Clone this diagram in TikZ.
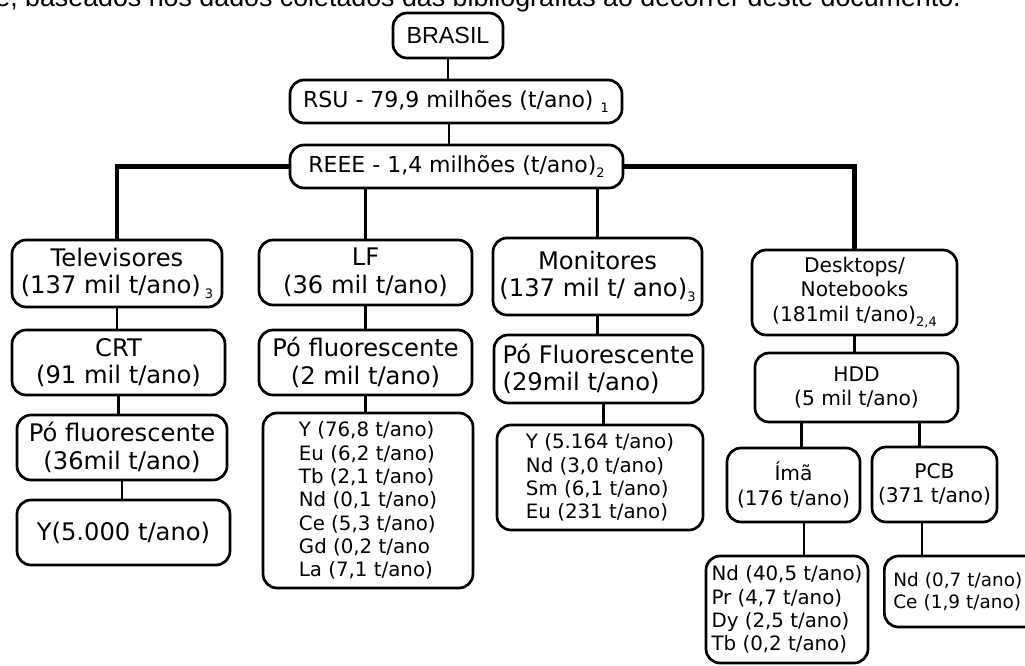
\documentclass[tikz,border=0pt]{standalone}
\usepackage{fontspec}
\setmainfont{DejaVu Sans}
\newfontfamily\arialfont{Liberation Sans}
\usetikzlibrary{calc}

\newcommand{\refn}[1]{\raisebox{-5pt}{\fontsize{13}{13}\selectfont #1}}

\begin{document}
\begin{tikzpicture}[x=1pt, y=-1pt,
                box/.style={
                  draw, line width=2.7pt, rounded corners=14pt, align=center, inner sep=2pt,
                  font=\fontsize{24.2}{27.5}\selectfont
                },
                smallbox/.style={box, font=\fontsize{20.2}{24.5}\selectfont},
                listbox/.style={box, align=left, font=\fontsize{19.8}{23.3}\selectfont},
                link/.style={line width=2.8pt},
                mainlink/.style={line width=4.4pt}, % the two long branches of REEE
              ]
  \path[use as bounding box] (0,0) rectangle (1025,666);
  \clip (0,0) rectangle (1025,666);

  \node[anchor=base west, inner sep=0, font=\arialfont\fontsize{26.8}{30}\selectfont] (caption) at (-4.8,6.5)
    {e, baseados nos dados coletados das bibliografias ao decorrer deste documento.};

  \node[box, minimum width=110, minimum height=45, font=\arialfont\fontsize{23.3}{27}\selectfont] (brasil) at (448,35.5) {BRASIL};
  \node[box, minimum width=332, minimum height=43, font=\fontsize{22}{26}\selectfont] (rsu) at (456,101.5) {RSU - 79,9 milhões (t/ano) \refn{1}};
  \node[box, minimum width=333, minimum height=43, font=\fontsize{22}{26}\selectfont] (reee) at (456.5,166.5) {REEE - 1,4 milhões (t/ano)\refn{2}};

  % Televisores
  \node[box, minimum width=210, minimum height=67] (tele) at (117,273.5) {Televisores\\(137 mil t/ano)\,\refn{3}};
  \node[box, minimum width=213, minimum height=65] (crt) at (118.5,362.5) {CRT\\(91 mil t/ano)};
  \node[box, minimum width=210, minimum height=65] (po1) at (122,447.5) {Pó fluorescente\\(36mil t/ano)};
  \node[box, minimum width=213, minimum height=65] (y1) at (123.5,532.5) {Y(5.000 t/ano)};

  % LF
  \node[box, minimum width=213, minimum height=65] (lf) at (365.5,272.5) {LF\\(36 mil t/ano)};
  \node[box, minimum width=213, minimum height=65] (po2) at (365.5,362.5) {Pó fluorescente\\(2 mil t/ano)};
  \node[listbox, minimum width=210, minimum height=175] (list2) at (368,500.5)
    {Y (76,8 t/ano)\\Eu (6,2 t/ano)\\Tb (2,1 t/ano)\\Nd (0,1 t/ano)\\Ce (5,3 t/ano)\\Gd (0,2 t/ano\\La (7,1 t/ano)};

  % Monitores
  \node[box, minimum width=209, minimum height=77] (mon) at (597.5,276.5) {Monitores\\(137 mil t/ ano)\refn{3}};
  \node[box, align=left, minimum width=209, minimum height=68] (po3) at (598.5,369) {Pó Fluorescente\\(29mil t/ano)};
  \node[listbox, minimum width=206, minimum height=105] (list3) at (600,477.5)
    {Y (5.164 t/ano)\\Nd (3,0 t/ano)\\Sm (6,1 t/ano)\\Eu (231 t/ano)};

  % Desktops/Notebooks
  \node[smallbox, minimum width=205, minimum height=85] (desk) at (854.5,292.5) {Desktops/\\Notebooks\\(181mil t/ano)\refn{2,4}};
  \node[smallbox, minimum width=203, minimum height=69] (hdd) at (856.5,387.5) {HDD\\(5 mil t/ano)};
  \node[smallbox, minimum width=133, minimum height=74] (ima) at (793.5,485) {Ímã\\(176 t/ano)};
  \node[smallbox, minimum width=125, minimum height=75] (pcb) at (934.5,484.5) {PCB\\(371 t/ano)};
  \node[listbox, minimum width=162, minimum height=107] (list4a) at (787,609.5)
    {Nd (40,5 t/ano)\\Pr (4,7 t/ano)\\Dy (2,5 t/ano)\\Tb (0,2 t/ano)};
  \node[listbox, anchor=west, text width=141, inner xsep=9, minimum height=71,
        font=\fontsize{18.4}{22.5}\selectfont] (list4b) at (883,591.5)
    {Nd (0,7 t/ano)\\Ce (1,9 t/ano)};

  \draw[link] (brasil.south) -- (brasil.south |- rsu.north);
  \draw[link] ([xshift=-7]rsu.south) -- ([xshift=-7]rsu.south |- reee.north);
  \draw[mainlink] (reee.west) -| (tele.north);
  \draw[mainlink] (reee.east) -| (desk.north);
  \draw[link] (reee.south -| lf.north) -- (lf.north);
  \draw[link] (reee.south -| mon.north) -- (mon.north);

  \foreach \up/\down in {tele/crt, crt/po1, po1/y1, lf/po2, po2/list2, mon/po3, desk/hdd}
    \draw[link] (\up.south) -- (\up.south |- \down.north);
  \draw[link] ([xshift=5]po3.south) -- ([xshift=5]po3.south |- list3.north);
  \draw[link] ([xshift=8]ima.north) -- ([xshift=8]ima.north |- hdd.south);
  \draw[link] ([xshift=-15]pcb.north) -- ([xshift=-15]pcb.north |- hdd.south);
  \draw[link] ([xshift=17]list4a.north) -- ([xshift=17]list4a.north |- ima.south);
  \draw[link] ([xshift=39]list4b.west |- list4b.north) -- ([xshift=39]list4b.west |- pcb.south);
\end{tikzpicture}
\end{document}
